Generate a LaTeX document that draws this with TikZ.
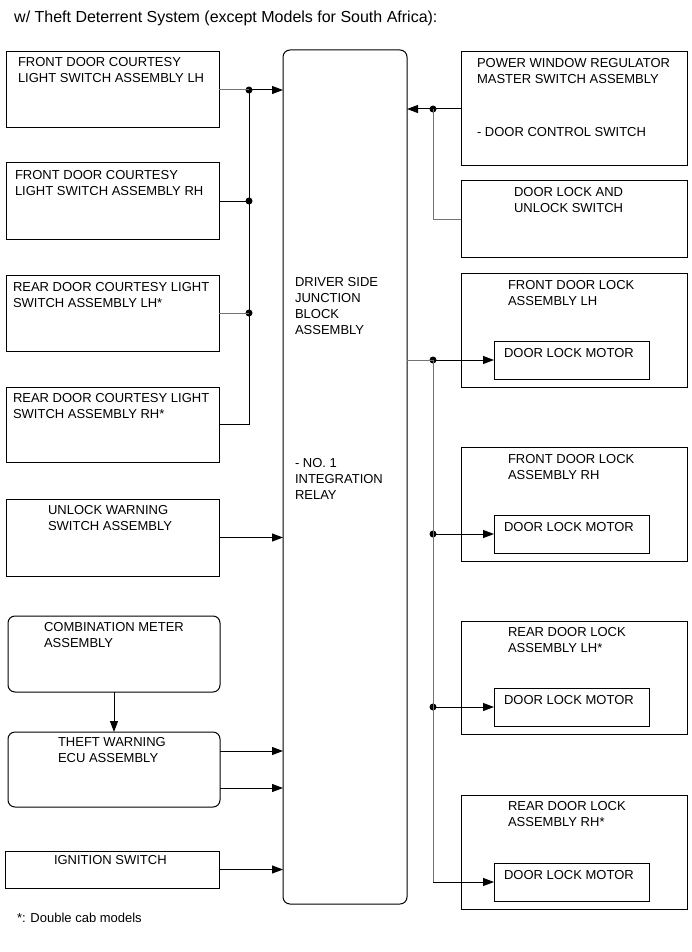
\documentclass[tikz,border=0pt]{standalone}
\usepackage{fontspec}
\setmainfont{Liberation Sans}
\usetikzlibrary{arrows.meta}
\definecolor{lgray}{RGB}{115,115,115}
\begin{document}
\begin{tikzpicture}[x=1pt,y=-1pt,
  box/.style={draw, line width=1pt, rectangle, inner sep=0pt, outer sep=0pt, anchor=north west},
  rbox/.style={box, rounded corners=7pt},
  txt/.style={anchor=base west, inner sep=0pt, outer sep=0pt, align=left, font=\fontsize{13}{16}\selectfont},
  wire/.style={line width=1pt},
  gwire/.style={wire, draw=lgray},
  arr/.style={wire, -{Triangle[length=11pt,width=8pt]}},
  jdot/.style={circle, fill, inner sep=0pt, outer sep=0pt, minimum size=7pt}]
\useasboundingbox (0,0) rectangle (691,952);

\node[anchor=base west, inner sep=0pt, font=\fontsize{16}{19}\selectfont] (title) at (14,23) {w/ Theft Deterrent System (except Models for South Africa):};

% central block
\node[box, rounded corners=7pt, minimum width=124pt, minimum height=854pt] (jb) at (283,50) {};
\node[txt] (jbt1) at (295,334) {DRIVER SIDE\\JUNCTION\\BLOCK\\ASSEMBLY};
\node[txt] (jbt2) at (295,499) {- NO. 1\\INTEGRATION\\RELAY};

% left column
\node[box, minimum width=213pt, minimum height=76pt] (b1) at (6,52) {};
\node[txt] (t1) at (18,83) {FRONT DOOR COURTESY\\LIGHT SWITCH ASSEMBLY LH};
\node[box, minimum width=213pt, minimum height=76pt] (b2) at (6,163) {};
\node[txt] (t2) at (15,195) {FRONT DOOR COURTESY\\LIGHT SWITCH ASSEMBLY RH};
\node[box, minimum width=213pt, minimum height=76pt] (b3) at (6,275) {};
\node[txt] (t3) at (13,307) {REAR DOOR COURTESY LIGHT\\SWITCH ASSEMBLY LH*};
\node[box, minimum width=213pt, minimum height=75pt] (b4) at (6,387) {};
\node[txt] (t4) at (13,418) {REAR DOOR COURTESY LIGHT\\SWITCH ASSEMBLY RH*};
\node[box, minimum width=213pt, minimum height=77pt] (b5) at (6,499) {};
\node[txt] (t5) at (48,530) {UNLOCK WARNING\\SWITCH ASSEMBLY};
\node[rbox, minimum width=212pt, minimum height=76pt] (b6) at (8,616) {};
\node[txt] (t6) at (44,647) {COMBINATION METER\\ASSEMBLY};
\node[rbox, minimum width=212pt, minimum height=75pt] (b7) at (8,732) {};
\node[txt] (t7) at (58,762) {THEFT WARNING\\ECU ASSEMBLY};
\node[box, minimum width=214pt, minimum height=37pt] (b8) at (5,851) {};
\node[txt] (t8) at (54,864) {IGNITION SWITCH};
\node[txt] (foot) at (17,922) {*: Double cab models};

% right column
\node[box, minimum width=226pt, minimum height=114pt] (pw) at (461,52) {};
\node[txt] (tpw) at (477,84) {POWER WINDOW REGULATOR\\MASTER SWITCH ASSEMBLY};
\node[txt] (tpw2) at (477,137) {- DOOR CONTROL SWITCH};
\node[box, minimum width=226pt, minimum height=76pt] (dl) at (461,181) {};
\node[txt] (tdl) at (514,212) {DOOR LOCK AND\\UNLOCK SWITCH};

\node[box, minimum width=226pt, minimum height=114pt] (fl) at (461,273) {};
\node[txt] (tfl) at (508,305) {FRONT DOOR LOCK\\ASSEMBLY LH};
\node[box, minimum width=155pt, minimum height=38pt] (m1) at (494,341) {};
\node[txt] (tm1) at (504,357) {DOOR LOCK MOTOR};

\node[box, minimum width=226pt, minimum height=114pt] (fr) at (461,447) {};
\node[txt] (tfr) at (508,479) {FRONT DOOR LOCK\\ASSEMBLY RH};
\node[box, minimum width=155pt, minimum height=38pt] (m2) at (494,515) {};
\node[txt] (tm2) at (504,531) {DOOR LOCK MOTOR};

\node[box, minimum width=226pt, minimum height=113pt] (rl) at (461,621) {};
\node[txt] (trl) at (508,652) {REAR DOOR LOCK\\ASSEMBLY LH*};
\node[box, minimum width=155pt, minimum height=38pt] (m3) at (494,688) {};
\node[txt] (tm3) at (504,704) {DOOR LOCK MOTOR};

\node[box, minimum width=226pt, minimum height=114pt] (rr) at (461,795) {};
\node[txt] (trr) at (508,826) {REAR DOOR LOCK\\ASSEMBLY RH*};
\node[box, minimum width=155pt, minimum height=38pt] (m4) at (494,863) {};
\node[txt] (tm4) at (504,879) {DOOR LOCK MOTOR};

% left bus
\coordinate (busx) at (249,0);
\node[jdot] (d1) at (b1.east -| busx) {};
\node[jdot] (d2) at (b2.east -| busx) {};
\node[jdot] (d3) at (b3.east -| busx) {};
\coordinate (c4) at (b4.east -| busx);
\draw[gwire] (b1.east) -- (d1.center);
\draw[arr] (d1.center) -- (d1.center -| jb.west);
\draw[wire] (b2.east) -- (d2.center);
\draw[gwire] (b3.east) -- (d3.center);
\draw[wire] (b4.east) -- (c4) -- (d1.center);
\draw[arr] (b5.east) -- (b5.east -| jb.west);
\draw[arr] (b6.south) -- (b7.north);
\coordinate (e1) at ([yshift=-19pt]b7.north east);
\coordinate (e2) at ([yshift=-56pt]b7.north east);
\draw[arr] (e1) -- (e1 -| jb.west);
\draw[arr] (e2) -- (e2 -| jb.west);
\draw[arr] (b8.east) -- (b8.east -| jb.west);

% right bus
\coordinate (rbx) at (433,0);
\node[jdot] (r1) at (pw.west -| rbx) {};
\draw[wire] (pw.west) -- (r1.center);
\draw[arr] (r1.center) -- (r1.center -| jb.east);
\draw[gwire] (dl.west) -| (r1.center);

\node[jdot] (r2) at (m1.west -| rbx) {};
\node[jdot] (r3) at (m2.west -| rbx) {};
\node[jdot] (r4) at (m3.west -| rbx) {};
\coordinate (c5) at (m4.west -| rbx);
\draw[gwire] (jb.east |- m1.west) -- (r2.center);
\draw[arr] (r2.center) -- (m1.west);
\draw[arr] (r3.center) -- (m2.west);
\draw[arr] (r4.center) -- (m3.west);
\draw[gwire] (r2.center) -- (c5);
\draw[arr] (c5) -- (m4.west);
\end{tikzpicture}
\end{document}
